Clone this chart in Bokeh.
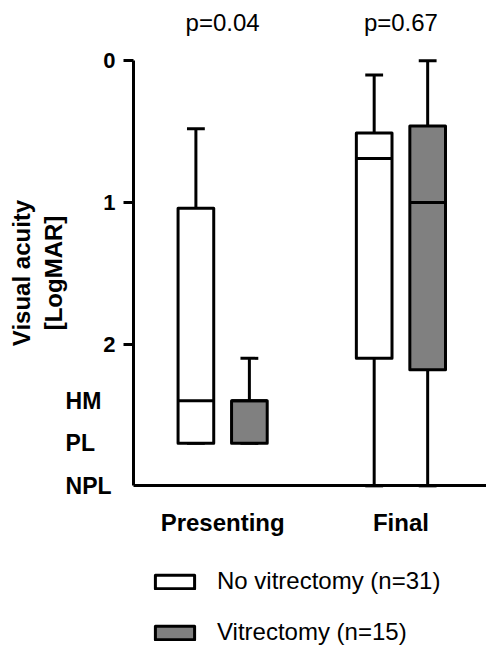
from bokeh.plotting import figure
from bokeh.models import Range1d, FixedTicker, Legend, LegendItem, ColumnDataSource
from bokeh.layouts import column
from bokeh.core.properties import value
from bokeh.embed import file_html
from bokeh.resources import INLINE

FONT = "Liberation Sans"

categories = ["Presenting", "Final"]
cat_x = [1, 2]
p_values = ["p=0.04", "p=0.67"]

# LogMAR box statistics (lower value = better acuity)
nv_low = [0.48, 0.10]
nv_q1 = [1.04, 0.51]
nv_med = [2.40, 0.69]
nv_q3 = [2.70, 2.10]
nv_high = [2.70, 3.00]

v_low = [2.10, 0.00]
v_q1 = [2.40, 0.46]
v_med = [2.40, 1.00]
v_q3 = [2.70, 2.18]
v_high = [2.70, 3.00]

y_ticks = [0, 1, 2]
extra_tick_vals = [2.4, 2.7, 3.0]
extra_tick_labels = ["HM", "PL", "NPL"]
series_names = ["No vitrectomy (n=31)", "Vitrectomy (n=15)"]
fills = ["white", "#808080"]

off = 0.15
bw = 0.2
cw = 0.1
X0 = 0.5     # where the value axis sits
YMAX = 3.0   # NPL, where the category axis sits

p = figure(width=486, height=546, output_backend="svg",
           toolbar_location=None, x_range=Range1d(-0.246, 2.48),
           y_range=Range1d(3.428, -0.4255),
           min_border_left=0, min_border_right=0, min_border_top=0,
           min_border_bottom=0)
p.outline_line_color = None
p.xgrid.visible = False
p.ygrid.visible = False
p.background_fill_color = "white"
p.border_fill_color = "white"

def draw(xs, low, q1, med, q3, high, fill):
    x0 = [x - bw / 2 for x in xs]
    x1 = [x + bw / 2 for x in xs]
    c0 = [x - cw / 2 for x in xs]
    c1 = [x + cw / 2 for x in xs]
    p.segment(xs, low, xs, q1, line_width=3, line_color="black")
    p.segment(xs, q3, xs, high, line_width=3, line_color="black")
    p.segment(c0, low, c1, low, line_width=3, line_color="black")
    p.segment(c0, high, c1, high, line_width=3, line_color="black")
    r = p.vbar(x=xs, width=bw, top=q1, bottom=q3, fill_color=fill,
               line_color="black", line_width=3, line_join="round")
    p.segment(x0, med, x1, med, line_width=3, line_color="black")
    return r

draw([x - off for x in cat_x], nv_low, nv_q1, nv_med, nv_q3, nv_high, fills[0])
draw([x + off for x in cat_x], v_low, v_q1, v_med, v_q3, v_high, fills[1])

# p-values above the groups
p.text(x=cat_x, y=[-0.27] * len(cat_x), text=p_values, text_font=value(FONT),
       text_font_size="24px", text_align="center", text_baseline="alphabetic",
       text_color="black")

# y axis
ya = p.yaxis[0]
ya.fixed_location = X0
ya.bounds = (0, YMAX)
ya.ticker = FixedTicker(ticks=y_ticks)
ya.axis_line_width = 3
ya.major_tick_line_width = 3
ya.major_tick_out = 10
ya.major_tick_in = 0
ya.minor_tick_line_color = None
ya.major_label_text_font = FONT
ya.major_label_text_font_style = "bold"
ya.major_label_text_font_size = "22px"
ya.major_label_text_color = "black"
ya.major_label_standoff = 8
ya.axis_label = "Visual acuity\n[LogMAR]"
ya.axis_label_text_font = FONT
ya.axis_label_text_font_style = "bold"
ya.axis_label_text_font_size = "24px"
ya.axis_label_text_color = "black"
ya.axis_label_standoff = 33

# verbal acuity levels below the numeric scale
p.text(x=[0.119] * len(extra_tick_vals), y=extra_tick_vals,
       text=extra_tick_labels, text_font=value(FONT),
       text_font_style="bold", text_font_size="23px", text_align="left",
       text_baseline="middle", text_color="black")

# x axis
xa = p.xaxis[0]
xa.fixed_location = YMAX
xa.bounds = (X0, 2.48)
xa.ticker = FixedTicker(ticks=cat_x)
xa.major_label_overrides = {x: c for x, c in zip(cat_x, categories)}
xa.axis_line_width = 3
xa.major_tick_line_color = None
xa.minor_tick_line_color = None
xa.major_label_text_font = FONT
xa.major_label_text_font_style = "bold"
xa.major_label_text_font_size = "24px"
xa.major_label_text_color = "black"
xa.major_label_standoff = 17

# legend panel
p2 = figure(width=486, height=100, output_backend="svg", toolbar_location=None,
            x_axis_location=None, y_axis_location=None,
            x_range=Range1d(0, 1), y_range=Range1d(0, 1),
            min_border_left=0, min_border_right=0, min_border_top=0,
            min_border_bottom=0)
p2.outline_line_color = None
p2.xgrid.visible = False
p2.ygrid.visible = False
items = []
for name, fill in zip(series_names, fills):
    src = ColumnDataSource(data=dict(x=[float("nan")], top=[float("nan")],
                                     bottom=[float("nan")]))
    r = p2.vbar(x="x", top="top", bottom="bottom", width=0.1, source=src,
                fill_color=fill, line_color="black", line_width=3,
                line_join="round")
    items.append(LegendItem(label=name, renderers=[r]))

legend = Legend(items=items, location=(150, 0), orientation="vertical",
                glyph_width=49, glyph_height=17, label_standoff=18,
                label_height=28, label_text_font=FONT,
                label_text_font_size="24px", label_text_color="black",
                spacing=23, padding=0, margin=0,
                border_line_color=None, background_fill_alpha=0)
p2.add_layout(legend)

layout = column(p, p2, spacing=0)
open("out.html", "w").write(file_html(layout, INLINE))
